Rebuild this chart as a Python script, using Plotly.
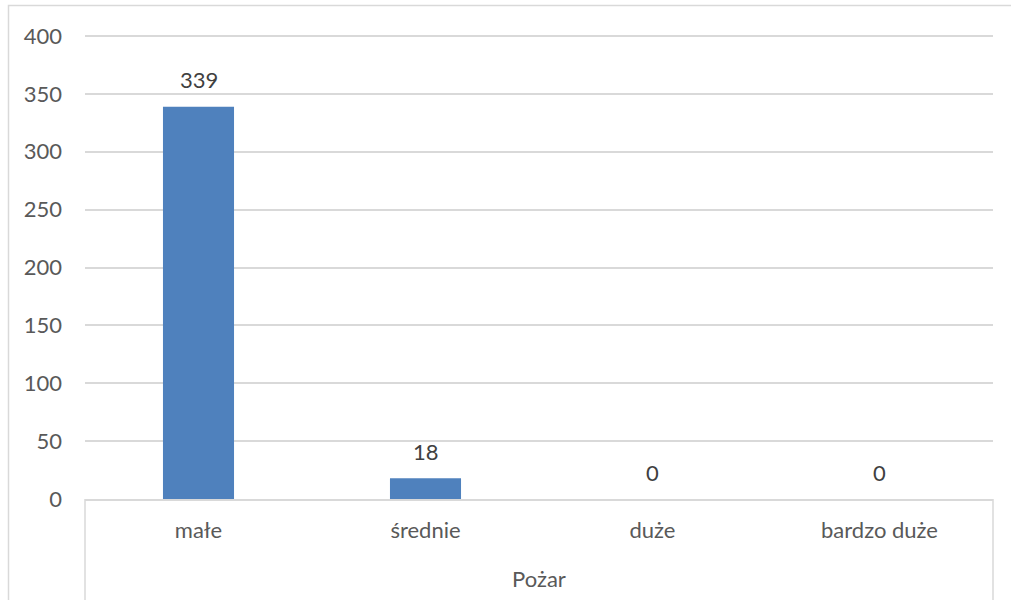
import plotly.graph_objects as go

categories = ["małe", "średnie", "duże", "bardzo duże"]
values = [339, 18, 0, 0]
group_label = "Pożar"
y_ticks = [0, 50, 100, 150, 200, 250, 300, 350, 400]

FONT = "Lato, 'Open Sans', sans-serif"
W, H = 1011, 600
ML, MR, MT, MB = 85, 18, 35, 101
PW, PH = W - ML - MR, H - MT - MB

def px_x(p):
    return (p - ML) / PW

def px_y(p):
    return (H - MB - p) / PH

fig = go.Figure()
fig.add_trace(go.Bar(
    x=categories, y=values,
    marker=dict(color="#4F81BD", line=dict(width=0)),
    hoverinfo="skip",
))

for c, v in zip(categories, values):
    fig.add_annotation(x=c, y=v, text=str(v), showarrow=False, yanchor="middle",
                       yshift=27, font=dict(family=FONT, size=22, color="#404040"))

line_col = "#D9D9D9"
# group dividers (x axis second level)
for xp in (0, 1):
    fig.add_shape(type="line", xref="paper", yref="paper", x0=xp, x1=xp,
                  y0=0, y1=px_y(640), line=dict(color=line_col, width=1.5))
# chart border (right and bottom edges fall outside the visible page)
fig.add_shape(type="rect", xref="paper", yref="paper",
              x0=px_x(8.5), x1=px_x(1030), y0=px_y(5.5), y1=px_y(700),
              line=dict(color=line_col, width=1.5), fillcolor="rgba(0,0,0,0)")

fig.update_layout(
    width=W, height=H,
    margin=dict(l=ML, r=MR, t=MT, b=MB),
    plot_bgcolor="white", paper_bgcolor="white",
    bargap=0.687,
    showlegend=False,
    font=dict(family=FONT, size=22, color="#595959"),
    xaxis=dict(
        type="category",
        showgrid=False, showline=True, linecolor=line_col, linewidth=1.5,
        ticks="", ticklabelstandoff=11,
        tickfont=dict(family=FONT, size=22, color="#595959"),
        title=dict(text=group_label, standoff=29,
                   font=dict(family=FONT, size=22, color="#595959")),
        fixedrange=True,
    ),
    yaxis=dict(
        range=[0, 400.9], tickvals=y_ticks, ticktext=[str(t) for t in y_ticks],
        showgrid=True, gridcolor=line_col, gridwidth=1.5,
        zeroline=False, showline=False, ticks="", ticklabelstandoff=22,
        tickfont=dict(family=FONT, size=22, color="#595959"),
        fixedrange=True,
    ),
)

fig.write_html("out.html", config={"displayModeBar": False},
               post_script="document.body.style.margin='0';document.body.style.overflow='hidden';")
